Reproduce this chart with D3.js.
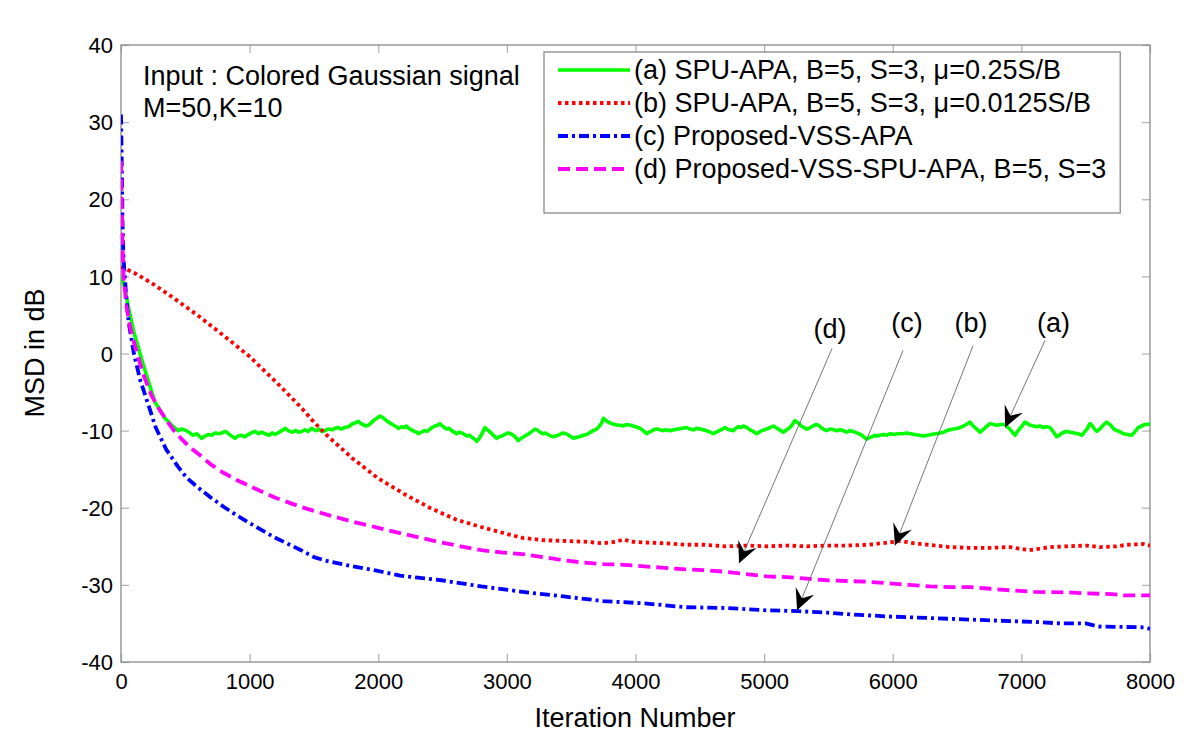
<!DOCTYPE html>
<html><head><meta charset="utf-8">
<script src="https://cdn.jsdelivr.net/npm/d3@7"></script>
<style>
body{margin:0;background:#fff}
svg{display:block}
text{font-family:"Liberation Sans",Arial,Helvetica,sans-serif;fill:#000}
</style>
</head><body>
<svg id="chart" width="1200" height="752"></svg>
<script>
// ---------------- data ----------------
const xTicks = [0,1000,2000,3000,4000,5000,6000,7000,8000];
const yTicks = [-40,-30,-20,-10,0,10,20,30,40];

const legendLabels = [
  "(a) SPU-APA, B=5, S=3, \u03BC=0.25S/B",
  "(b) SPU-APA, B=5, S=3, \u03BC=0.0125S/B",
  "(c) Proposed-VSS-APA",
  "(d) Proposed-VSS-SPU-APA, B=5, S=3"
];
const infoLines = ["Input : Colored Gaussian signal", "M=50,K=10"];

// (a) SPU-APA mu=0.25S/B  [iteration, MSD dB]
const seriesA = [[0,10.2],[30,8.5],[60,5.8],[100,2.8],[174,-1.5],[264,-6.3],[342,-8.4],[400,-9.4],[443,-10.0],[470,-9.8],[508,-10.0],[535,-10.3],[560,-10.6],[590,-10.4],[627,-11.0],[655,-10.7],[680,-10.5],[705,-10.6],[731,-10.3],[770,-10.4],[809,-10.1],[830,-10.3],[850,-10.6],[870,-10.8],[886,-11.0],[910,-10.7],[940,-10.6],[965,-10.8],[990,-10.5],[1015,-10.3],[1040,-10.1],[1070,-10.4],[1094,-10.2],[1120,-10.4],[1150,-10.6],[1175,-10.3],[1197,-10.5],[1220,-10.3],[1240,-10.1],[1260,-9.9],[1275,-9.7],[1300,-10.0],[1330,-10.2],[1355,-10.0],[1379,-10.2],[1405,-10.1],[1430,-9.9],[1455,-10.1],[1482,-9.7],[1500,-9.9],[1520,-10.0],[1540,-9.8],[1560,-10.1],[1585,-10.0],[1610,-9.8],[1640,-9.9],[1664,-9.7],[1690,-9.6],[1710,-9.8],[1740,-9.6],[1767,-9.5],[1785,-9.3],[1800,-9.1],[1820,-9.0],[1845,-8.8],[1865,-9.1],[1880,-9.2],[1900,-9.4],[1923,-9.3],[1945,-9.0],[1970,-8.6],[1990,-8.4],[2014,-8.1],[2035,-8.3],[2050,-8.5],[2079,-8.9],[2100,-9.1],[2120,-9.3],[2140,-9.5],[2157,-9.7],[2180,-9.5],[2200,-9.6],[2220,-9.4],[2235,-9.7],[2260,-9.9],[2280,-10.1],[2300,-10.2],[2312,-10.4],[2335,-10.2],[2360,-10.0],[2380,-10.1],[2403,-9.8],[2420,-9.6],[2440,-9.4],[2460,-9.3],[2480,-9.1],[2505,-9.5],[2532,-9.8],[2550,-9.7],[2570,-10.0],[2590,-10.2],[2610,-10.4],[2630,-10.2],[2650,-10.3],[2670,-10.5],[2688,-10.7],[2710,-10.6],[2730,-10.9],[2750,-11.1],[2765,-11.4],[2785,-11.0],[2800,-10.6],[2815,-10.1],[2830,-9.6],[2850,-9.9],[2870,-10.2],[2895,-10.6],[2921,-11.0],[2940,-10.8],[2960,-10.7],[2985,-10.5],[3011,-10.3],[3030,-10.4],[3050,-10.6],[3070,-10.9],[3089,-11.3],[3110,-11.0],[3130,-10.8],[3150,-10.6],[3170,-10.4],[3195,-10.1],[3219,-9.8],[3235,-9.9],[3250,-10.1],[3265,-10.3],[3284,-10.4],[3300,-10.3],[3320,-10.5],[3340,-10.7],[3361,-10.8],[3380,-10.7],[3400,-10.6],[3420,-10.4],[3439,-10.3],[3460,-10.4],[3480,-10.6],[3500,-10.8],[3517,-11.0],[3540,-10.9],[3560,-10.8],[3580,-10.7],[3594,-10.6],[3620,-10.5],[3640,-10.3],[3670,-10.0],[3698,-9.8],[3715,-9.5],[3730,-9.2],[3742,-8.8],[3750,-8.4],[3765,-8.6],[3780,-8.8],[3800,-9.0],[3815,-9.1],[3840,-9.2],[3860,-9.3],[3885,-9.3],[3906,-9.4],[3930,-9.2],[3960,-9.3],[4000,-9.5],[4035,-9.7],[4060,-10.0],[4087,-10.4],[4105,-10.2],[4120,-10.1],[4140,-9.9],[4165,-9.8],[4190,-9.9],[4210,-10.0],[4240,-9.9],[4268,-10.0],[4300,-9.9],[4330,-9.8],[4365,-9.7],[4398,-9.6],[4425,-9.8],[4450,-9.9],[4475,-9.7],[4502,-9.8],[4525,-9.9],[4550,-10.0],[4580,-10.2],[4605,-10.4],[4630,-10.2],[4650,-10.0],[4675,-9.8],[4696,-9.6],[4715,-9.8],[4730,-9.9],[4761,-10.0],[4780,-9.7],[4800,-9.5],[4820,-9.6],[4839,-9.4],[4865,-9.6],[4890,-9.9],[4915,-10.1],[4942,-10.4],[4970,-10.1],[5000,-9.9],[5035,-9.7],[5071,-9.4],[5090,-9.6],[5110,-9.8],[5130,-10.0],[5149,-10.2],[5175,-9.9],[5200,-9.6],[5220,-9.2],[5240,-8.7],[5265,-9.0],[5290,-9.4],[5310,-9.6],[5331,-9.8],[5350,-9.7],[5370,-9.5],[5390,-9.3],[5409,-9.2],[5430,-9.4],[5450,-9.7],[5470,-9.9],[5486,-10.0],[5510,-9.8],[5540,-9.9],[5565,-10.0],[5590,-9.9],[5615,-10.0],[5640,-10.2],[5665,-10.0],[5694,-10.1],[5720,-10.3],[5750,-10.5],[5775,-10.8],[5797,-11.1],[5820,-10.9],[5840,-10.8],[5860,-10.6],[5875,-10.7],[5900,-10.6],[5930,-10.5],[5955,-10.6],[5979,-10.4],[6010,-10.5],[6040,-10.4],[6075,-10.4],[6108,-10.3],[6140,-10.4],[6170,-10.5],[6205,-10.6],[6238,-10.7],[6270,-10.6],[6300,-10.5],[6335,-10.4],[6368,-10.3],[6395,-10.2],[6420,-10.0],[6445,-9.9],[6471,-9.8],[6505,-9.7],[6540,-9.5],[6570,-9.2],[6601,-8.9],[6620,-9.3],[6640,-9.6],[6660,-9.9],[6679,-10.2],[6700,-9.9],[6720,-9.6],[6740,-9.3],[6756,-9.1],[6785,-9.2],[6810,-9.3],[6840,-9.2],[6873,-9.2],[6890,-9.5],[6910,-9.8],[6930,-10.2],[6951,-10.6],[6970,-10.1],[6990,-9.7],[7010,-9.3],[7028,-8.9],[7050,-9.1],[7070,-9.3],[7095,-9.4],[7119,-9.5],[7145,-9.4],[7170,-9.6],[7195,-9.5],[7223,-9.6],[7250,-10.2],[7275,-10.8],[7295,-10.6],[7310,-10.4],[7330,-10.2],[7352,-10.1],[7380,-10.2],[7410,-10.3],[7440,-10.4],[7469,-10.6],[7490,-10.2],[7510,-9.8],[7522,-9.4],[7534,-9.1],[7548,-9.3],[7560,-9.6],[7575,-9.9],[7586,-10.1],[7610,-9.8],[7630,-9.4],[7648,-9.1],[7663,-8.9],[7680,-9.1],[7700,-9.4],[7715,-9.7],[7728,-9.9],[7760,-10.1],[7793,-10.4],[7825,-10.5],[7858,-10.6],[7885,-10.1],[7909,-9.6],[7935,-9.4],[7960,-9.2],[7980,-9.2],[8000,-9.1]];

// (b) SPU-APA mu=0.0125S/B
const seriesB = [[0,11.2],[30,11.0],[100,10.5],[250,9.0],[400,7.3],[600,4.9],[800,2.3],[1000,-0.4],[1200,-3.6],[1400,-7.0],[1500,-8.9],[1600,-10.6],[1800,-13.6],[2000,-16.2],[2200,-18.2],[2400,-20.0],[2600,-21.5],[2800,-22.5],[3000,-23.4],[3120,-23.9],[3280,-24.2],[3440,-24.3],[3600,-24.4],[3750,-24.6],[3850,-24.4],[3910,-24.1],[3960,-24.4],[4070,-24.5],[4230,-24.6],[4390,-24.8],[4540,-24.8],[4700,-25.0],[4860,-24.9],[5020,-25.0],[5180,-24.9],[5330,-25.0],[5490,-24.9],[5650,-24.9],[5810,-24.8],[5970,-24.5],[6060,-24.3],[6160,-24.6],[6280,-24.8],[6440,-25.1],[6600,-25.2],[6760,-25.2],[6910,-25.1],[7060,-25.5],[7220,-25.1],[7350,-25.0],[7510,-24.9],[7610,-25.1],[7740,-25.0],[7820,-24.8],[7950,-24.7],[8000,-24.9]];

// (c) Proposed-VSS-APA
const seriesC = [[0,31],[4,27],[8,22],[12,17],[18,13],[25,11],[40,7.5],[60,4],[100,0],[150,-3.5],[200,-6.0],[270,-9.6],[350,-12.4],[440,-14.6],[510,-16.1],[600,-17.4],[700,-18.7],[800,-19.9],[900,-21.0],[1000,-22.0],[1200,-23.9],[1400,-25.5],[1500,-26.4],[1600,-26.9],[1800,-27.6],[2000,-28.2],[2170,-28.8],[2490,-29.4],[2800,-30.2],[3120,-30.9],[3440,-31.5],[3750,-32.1],[4070,-32.4],[4390,-32.9],[4700,-33.0],[5020,-33.3],[5260,-33.4],[5490,-33.6],[5650,-33.8],[5970,-34.1],[6290,-34.3],[6600,-34.5],[6920,-34.7],[7100,-34.8],[7300,-35.0],[7500,-35.0],[7600,-35.4],[7950,-35.5],[8000,-35.7]];

// (d) Proposed-VSS-SPU-APA
const seriesD = [[0,25],[5,20],[12,14],[20,10],[30,8.2],[44,6],[70,3.5],[96,1.7],[140,-0.8],[171,-2.6],[238,-5.5],[300,-7.3],[355,-8.7],[420,-10.2],[472,-11.1],[530,-12.1],[600,-13.0],[700,-14.4],[800,-15.5],[900,-16.4],[1000,-17.2],[1200,-18.7],[1400,-19.9],[1600,-20.9],[1800,-21.8],[2000,-22.6],[2170,-23.3],[2330,-23.9],[2490,-24.5],[2640,-25.0],[2800,-25.5],[2960,-25.8],[3120,-26.0],[3280,-26.4],[3440,-26.8],[3590,-27.1],[3750,-27.3],[3910,-27.4],[4070,-27.6],[4230,-27.8],[4390,-28.0],[4540,-28.1],[4700,-28.3],[4860,-28.6],[5020,-28.9],[5180,-29.0],[5330,-29.2],[5490,-29.4],[5650,-29.5],[5810,-29.6],[5970,-29.8],[6130,-30.0],[6290,-30.2],[6440,-30.3],[6600,-30.3],[6760,-30.5],[6910,-30.7],[7100,-30.9],[7400,-31.0],[7500,-31.1],[7700,-31.2],[7800,-31.35],[8000,-31.35]];

// annotations: label, label position, line start, arrow tip (data coords)
const annLabels = ["(d)","(c)","(b)","(a)"];
const annLabelPos = [[5512,2.0],[6111,2.8],[6608,2.8],[7250,2.8]];
const annStart = [[5528,0.65],[6080,0.4],[6624,1.0],[7184,1.7]];
const annTip = [[4805,-27.2],[5256,-33.3],[6017,-24.9],[6873,-9.6]];

// ---------------- drawing ----------------
const svg = d3.select("#chart");
const x = d3.scaleLinear().domain([0,8000]).range([121,1150]);
const y = d3.scaleLinear().domain([-40,40]).range([662,45]);

const axisColor = "#8a8a8a";
const styles = [
  {color:"#00ff00", dash:null, w:3.6},
  {color:"#ff0000", dash:"3.5,3.5", w:3.8},
  {color:"#0000ff", dash:"10,4,3,4", w:3.8},
  {color:"#ff00ff", dash:"12,6", w:3.8}
];
const allSeries = [seriesA, seriesB, seriesC, seriesD];

svg.append("defs").append("clipPath").attr("id","clip")
  .append("rect").attr("x",x(0)).attr("y",y(40)).attr("width",x(8000)-x(0)).attr("height",y(-40)-y(40));

// axes
const fmt = d => String(d);
const gx = svg.append("g").attr("transform",`translate(0,${y(-40)})`)
  .call(d3.axisBottom(x).tickValues(xTicks).tickSizeInner(-8).tickSizeOuter(0).tickPadding(10).tickFormat(fmt));
const gxt = svg.append("g").attr("transform",`translate(0,${y(40)})`)
  .call(d3.axisTop(x).tickValues(xTicks).tickSizeInner(-8).tickSizeOuter(0).tickFormat(""));
const gy = svg.append("g").attr("transform",`translate(${x(0)},0)`)
  .call(d3.axisLeft(y).tickValues(yTicks).tickSizeInner(-8).tickSizeOuter(0).tickPadding(8).tickFormat(fmt));
const gyr = svg.append("g").attr("transform",`translate(${x(8000)},0)`)
  .call(d3.axisRight(y).tickValues(yTicks).tickSizeInner(-8).tickSizeOuter(0).tickFormat(""));
[gx,gxt,gy,gyr].forEach(g=>{
  g.select(".domain").remove();
  g.selectAll(".tick line").attr("stroke","#b0b0b0").attr("stroke-width",1.2);
  g.selectAll(".tick text").style("font-size","22px").style("font-family","'Liberation Sans',Arial,sans-serif").attr("fill","#000");
});
gx.selectAll(".tick text").attr("dy","0.75em");
gy.selectAll(".tick text").attr("dy","0.35em");

svg.append("rect").attr("x",x(0)).attr("y",y(40)).attr("width",x(8000)-x(0)).attr("height",y(-40)-y(40))
  .attr("fill","none").attr("stroke",axisColor).attr("stroke-width",1.3);

// curves
const line = d3.line().x(d=>x(d[0])).y(d=>y(d[1]));
const plot = svg.append("g").attr("clip-path","url(#clip)");
allSeries.forEach((s,i)=>{
  plot.append("path").datum(s).attr("d",line).attr("fill","none")
    .attr("stroke",styles[i].color).attr("stroke-width",styles[i].w)
    .attr("stroke-linejoin","round")
    .attr("stroke-dasharray",styles[i].dash);
});

// info text
svg.append("text").attr("x",143).attr("y",85).style("font-size","27px").text(infoLines[0]);
svg.append("text").attr("x",143).attr("y",117).style("font-size","27px").text(infoLines[1]);

// legend
const lg = svg.append("g");
const lgText = lg.selectAll("text").data(legendLabels).join("text")
  .attr("x",634).attr("y",(d,i)=>70+i*33).attr("dy","0.35em")
  .style("font-size","27px").text(d=>d);
let maxW = 0;
lgText.each(function(){maxW=Math.max(maxW,this.getComputedTextLength());});
lg.insert("rect","text").attr("x",544).attr("y",52).attr("width",634+maxW+14-544).attr("height",161)
  .attr("fill","#fff").attr("stroke",axisColor).attr("stroke-width",1.3);
legendLabels.forEach((d,i)=>{
  lg.append("line").attr("x1",558).attr("x2",630).attr("y1",70+i*33).attr("y2",70+i*33)
    .attr("stroke",styles[i].color).attr("stroke-width",styles[i].w).attr("stroke-dasharray",styles[i].dash);
});

// annotations
const ann = svg.append("g");
annLabels.forEach((lab,i)=>{
  ann.append("text").attr("x",x(annLabelPos[i][0])).attr("y",y(annLabelPos[i][1]))
    .attr("text-anchor","middle").style("font-size","27px").text(lab);
  const x1=x(annStart[i][0]), y1=y(annStart[i][1]), x2=x(annTip[i][0]), y2=y(annTip[i][1]);
  ann.append("line").attr("x1",x1).attr("y1",y1).attr("x2",x2).attr("y2",y2)
    .attr("stroke","#666").attr("stroke-width",0.9);
  const ang = Math.atan2(y2-y1,x2-x1)*180/Math.PI;
  ann.append("path").attr("d","M0,0 L-21,-10 L-13,0 L-21,10 Z")
    .attr("transform",`translate(${x2},${y2}) rotate(${ang})`).attr("fill","#000");
});

// axis titles
svg.append("text").attr("x",635).attr("y",727).attr("text-anchor","middle").style("font-size","27px").text("Iteration Number");
svg.append("text").attr("transform","translate(44,353) rotate(-90)").attr("text-anchor","middle").style("font-size","27px").text("MSD in dB");
</script>
</body></html>
